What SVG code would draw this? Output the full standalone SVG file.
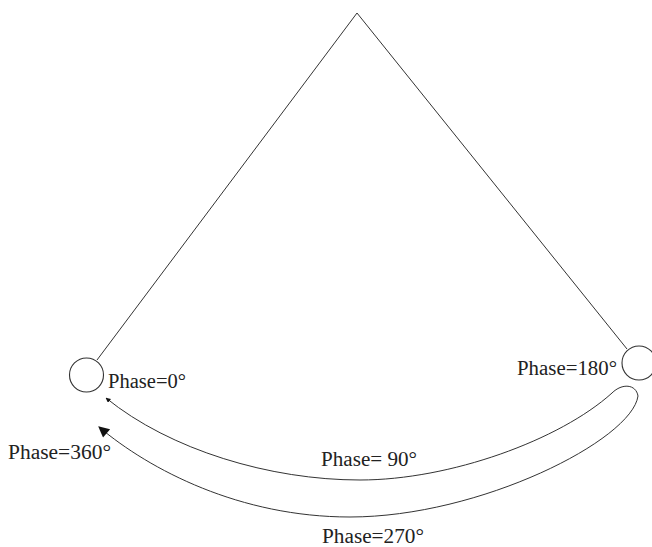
<svg xmlns="http://www.w3.org/2000/svg" width="652" height="547" viewBox="0 0 652 547">
  <style>
    .ln { fill: none; stroke: #333333; stroke-width: 1; }
    .node { fill: #ffffff; stroke: #333333; stroke-width: 1.1; }
    .lbl { font-family: "Liberation Serif", "Times New Roman", serif; font-size: 20px; fill: #222; }
  </style>
  <defs>
    <marker id="arrSmall" viewBox="0 0 10 10" refX="9" refY="5" markerWidth="5" markerHeight="5" markerUnits="userSpaceOnUse" orient="auto-start-reverse">
      <path d="M0,0 L10,5 L0,10 Z" fill="#111"/>
    </marker>
    <marker id="arrBig" viewBox="0 0 10 10" refX="9" refY="5" markerWidth="14" markerHeight="11" markerUnits="userSpaceOnUse" orient="auto">
      <path d="M0,0 L10,5 L0,10 Z" fill="#111"/>
    </marker>
  </defs>
  <rect x="0" y="0" width="652" height="547" fill="#ffffff"/>
  <g id="connectors">
    <line class="ln" x1="357" y1="13" x2="97" y2="360"/>
    <line class="ln" x1="357" y1="13" x2="627" y2="349"/>
    <path class="ln" d="M106,398 C170,450 270,480 360,480 C450,480 560,440 612,393 C622,383 636,384 638,396 C632,440 480,517 350,517 C240,517 150,470 99,427" marker-start="url(#arrSmall)" marker-end="url(#arrBig)"/>
  </g>
  <g id="node-left">
    <circle class="node" cx="86.5" cy="375" r="17"/>
    <text class="lbl" x="108" y="388" textLength="78" lengthAdjust="spacingAndGlyphs">Phase=0°</text>
  </g>
  <g id="node-right">
    <circle class="node" cx="639" cy="363" r="17"/>
    <text class="lbl" x="517" y="375" textLength="100" lengthAdjust="spacingAndGlyphs">Phase=180°</text>
  </g>
  <g id="labels">
    <text class="lbl" x="8" y="459" textLength="103" lengthAdjust="spacingAndGlyphs">Phase=360°</text>
    <text class="lbl" x="321" y="466" textLength="96" lengthAdjust="spacingAndGlyphs">Phase= 90°</text>
    <text class="lbl" x="322" y="543" textLength="102" lengthAdjust="spacingAndGlyphs">Phase=270°</text>
  </g>
</svg>
